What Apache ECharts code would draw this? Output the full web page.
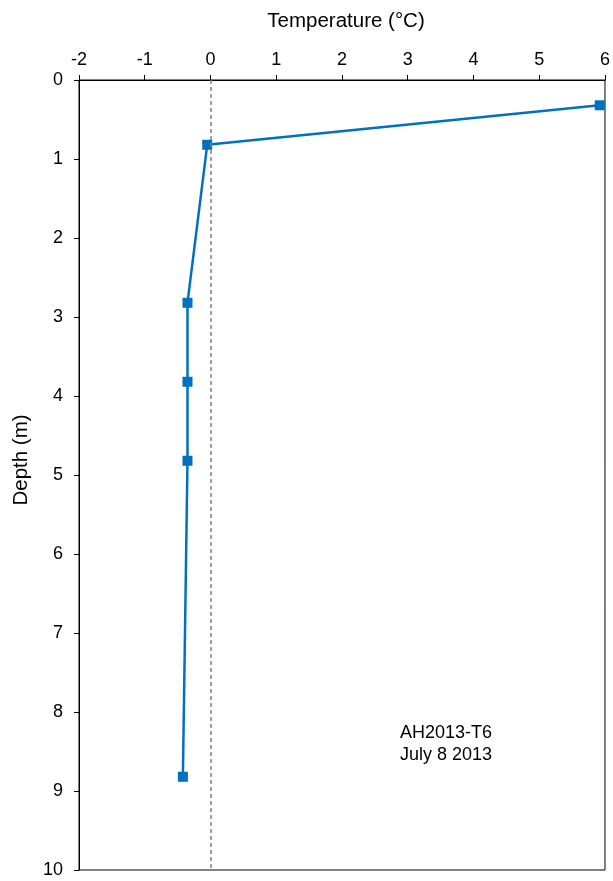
<!DOCTYPE html>
<html><head><meta charset="utf-8">
<script src="https://cdn.jsdelivr.net/npm/echarts@6/dist/echarts.min.js"></script>
<style>html,body{margin:0;padding:0;background:#fff;overflow:hidden}#c{width:613px;height:881px}</style>
</head><body><div id="c"></div>
<script>
const temperature = [5.92, -0.05, -0.35, -0.35, -0.35, -0.42];
const depth = [0.32, 0.82, 2.82, 3.82, 4.82, 8.82];
const annotation = ['AH2013-T6', 'July 8 2013'];
const FONT = '"Liberation Sans", Arial, sans-serif';

const chart = echarts.init(document.getElementById('c'), null, {renderer: 'canvas'});
chart.setOption({
  backgroundColor: '#fff',
  animation: false,
  grid: {left: 79, right: 4, top: 80, bottom: 11, show: true, borderColor: '#000', borderWidth: 1, backgroundColor: '#fff', containLabel: false},
  xAxis: {
    type: 'value', position: 'top', min: -2, max: 6, interval: 1,
    name: 'Temperature (°C)', nameLocation: 'middle', nameGap: 48,
    nameTextStyle: {fontFamily: FONT, fontSize: 20.5, color: '#000', padding: [0, 0, 0, 8]},
    axisLine: {show: true, onZero: false, lineStyle: {color: '#000', width: 1}},
    axisTick: {show: true, inside: false, length: 5, lineStyle: {color: '#000'}},
    axisLabel: {fontFamily: FONT, fontSize: 18, color: '#000', margin: 11},
    splitLine: {show: false}
  },
  yAxis: {
    type: 'value', inverse: true, min: 0, max: 10, interval: 1,
    name: 'Depth (m)', nameLocation: 'middle', nameGap: 47, nameRotate: 90,
    nameTextStyle: {fontFamily: FONT, fontSize: 20.5, color: '#000', padding: [0, 0, 0, 30]},
    axisLine: {show: true, onZero: false, lineStyle: {color: '#000', width: 1}},
    axisTick: {show: true, inside: false, length: 5, lineStyle: {color: '#000'}},
    axisLabel: {fontFamily: FONT, fontSize: 18, color: '#000', margin: 16},
    splitLine: {show: false}
  },
  series: [{
    type: 'line',
    data: temperature.map((t, i) => [t, depth[i]]),
    symbol: 'rect', symbolSize: 10,
    itemStyle: {color: '#0070C0'},
    lineStyle: {color: '#0070C0', width: 2.5},
    markLine: {
      silent: true, symbol: ['none', 'none'], label: {show: false},
      lineStyle: {color: '#808080', type: [4, 3], width: 1.5},
      data: [{xAxis: 0}]
    },
    z: 3
  }],
  graphic: [{
    type: 'text', x: 446, y: 722,
    style: {text: annotation.join('\n'), font: '18px ' + FONT, fill: '#000', textAlign: 'center', lineHeight: 22}
  }]
});
</script></body></html>
